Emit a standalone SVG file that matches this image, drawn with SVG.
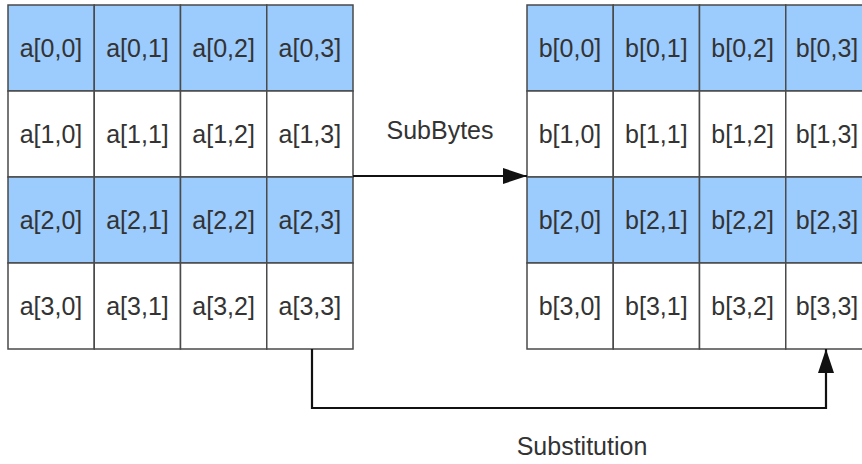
<svg xmlns="http://www.w3.org/2000/svg" width="862" height="464" viewBox="0 0 862 464">
<style>
.blue{fill:#9ccbfd;stroke:#4a4a4a;stroke-width:1.5}
.white{fill:#ffffff;stroke:#4a4a4a;stroke-width:1.5}
.t{font-family:"Liberation Sans",Arial,sans-serif;font-size:25px;fill:#333333;text-anchor:middle}
.lbl{font-family:"Liberation Sans",Arial,sans-serif;font-size:25px;fill:#333333;text-anchor:middle}
.conn{fill:none;stroke:#111111;stroke-width:2.2}
</style>
<defs>
<marker id="ah" markerWidth="24" markerHeight="16" refX="24" refY="8" orient="auto" markerUnits="userSpaceOnUse">
<path d="M0,0 L24,8 L0,16 Z" fill="#111111"/>
</marker>
</defs>
<rect width="862" height="464" fill="#ffffff"/>
<g id="gridA">
<g id="a00"><rect class="blue" x="8" y="5" width="86.25" height="86"/><text class="t" x="51" y="57">a[0,0]</text></g>
<g id="a01"><rect class="blue" x="94.25" y="5" width="86.25" height="86"/><text class="t" x="137.5" y="57">a[0,1]</text></g>
<g id="a02"><rect class="blue" x="180.5" y="5" width="86.25" height="86"/><text class="t" x="223.6" y="57">a[0,2]</text></g>
<g id="a03"><rect class="blue" x="266.75" y="5" width="86.25" height="86"/><text class="t" x="309.9" y="57">a[0,3]</text></g>
<g id="a10"><rect class="white" x="8" y="91" width="86.25" height="86"/><text class="t" x="51" y="143">a[1,0]</text></g>
<g id="a11"><rect class="white" x="94.25" y="91" width="86.25" height="86"/><text class="t" x="137.5" y="143">a[1,1]</text></g>
<g id="a12"><rect class="white" x="180.5" y="91" width="86.25" height="86"/><text class="t" x="223.6" y="143">a[1,2]</text></g>
<g id="a13"><rect class="white" x="266.75" y="91" width="86.25" height="86"/><text class="t" x="309.9" y="143">a[1,3]</text></g>
<g id="a20"><rect class="blue" x="8" y="177" width="86.25" height="86"/><text class="t" x="51" y="229">a[2,0]</text></g>
<g id="a21"><rect class="blue" x="94.25" y="177" width="86.25" height="86"/><text class="t" x="137.5" y="229">a[2,1]</text></g>
<g id="a22"><rect class="blue" x="180.5" y="177" width="86.25" height="86"/><text class="t" x="223.6" y="229">a[2,2]</text></g>
<g id="a23"><rect class="blue" x="266.75" y="177" width="86.25" height="86"/><text class="t" x="309.9" y="229">a[2,3]</text></g>
<g id="a30"><rect class="white" x="8" y="263" width="86.25" height="86"/><text class="t" x="51" y="315">a[3,0]</text></g>
<g id="a31"><rect class="white" x="94.25" y="263" width="86.25" height="86"/><text class="t" x="137.5" y="315">a[3,1]</text></g>
<g id="a32"><rect class="white" x="180.5" y="263" width="86.25" height="86"/><text class="t" x="223.6" y="315">a[3,2]</text></g>
<g id="a33"><rect class="white" x="266.75" y="263" width="86.25" height="86"/><text class="t" x="309.9" y="315">a[3,3]</text></g>
</g>
<g id="gridB">
<g id="b00"><rect class="blue" x="527" y="5" width="86.25" height="86"/><text class="t" x="570" y="57">b[0,0]</text></g>
<g id="b01"><rect class="blue" x="613.25" y="5" width="86.25" height="86"/><text class="t" x="656.4" y="57">b[0,1]</text></g>
<g id="b02"><rect class="blue" x="699.5" y="5" width="86.25" height="86"/><text class="t" x="742.6" y="57">b[0,2]</text></g>
<g id="b03"><rect class="blue" x="785.75" y="5" width="86.25" height="86"/><text class="t" x="827" y="57">b[0,3]</text></g>
<g id="b10"><rect class="white" x="527" y="91" width="86.25" height="86"/><text class="t" x="570" y="143">b[1,0]</text></g>
<g id="b11"><rect class="white" x="613.25" y="91" width="86.25" height="86"/><text class="t" x="656.4" y="143">b[1,1]</text></g>
<g id="b12"><rect class="white" x="699.5" y="91" width="86.25" height="86"/><text class="t" x="742.6" y="143">b[1,2]</text></g>
<g id="b13"><rect class="white" x="785.75" y="91" width="86.25" height="86"/><text class="t" x="827" y="143">b[1,3]</text></g>
<g id="b20"><rect class="blue" x="527" y="177" width="86.25" height="86"/><text class="t" x="570" y="229">b[2,0]</text></g>
<g id="b21"><rect class="blue" x="613.25" y="177" width="86.25" height="86"/><text class="t" x="656.4" y="229">b[2,1]</text></g>
<g id="b22"><rect class="blue" x="699.5" y="177" width="86.25" height="86"/><text class="t" x="742.6" y="229">b[2,2]</text></g>
<g id="b23"><rect class="blue" x="785.75" y="177" width="86.25" height="86"/><text class="t" x="827" y="229">b[2,3]</text></g>
<g id="b30"><rect class="white" x="527" y="263" width="86.25" height="86"/><text class="t" x="570" y="315">b[3,0]</text></g>
<g id="b31"><rect class="white" x="613.25" y="263" width="86.25" height="86"/><text class="t" x="656.4" y="315">b[3,1]</text></g>
<g id="b32"><rect class="white" x="699.5" y="263" width="86.25" height="86"/><text class="t" x="742.6" y="315">b[3,2]</text></g>
<g id="b33"><rect class="white" x="785.75" y="263" width="86.25" height="86"/><text class="t" x="827" y="315">b[3,3]</text></g>
</g>
<g id="connectors">
<path class="conn" d="M353,176 L527,176" marker-end="url(#ah)"/>
<path class="conn" d="M312,349 L312,408 L826,408 L826,349" marker-end="url(#ah)"/>
<text class="lbl" x="440" y="139">SubBytes</text>
<text class="lbl" x="582" y="455">Substitution</text>
</g>
</svg>
